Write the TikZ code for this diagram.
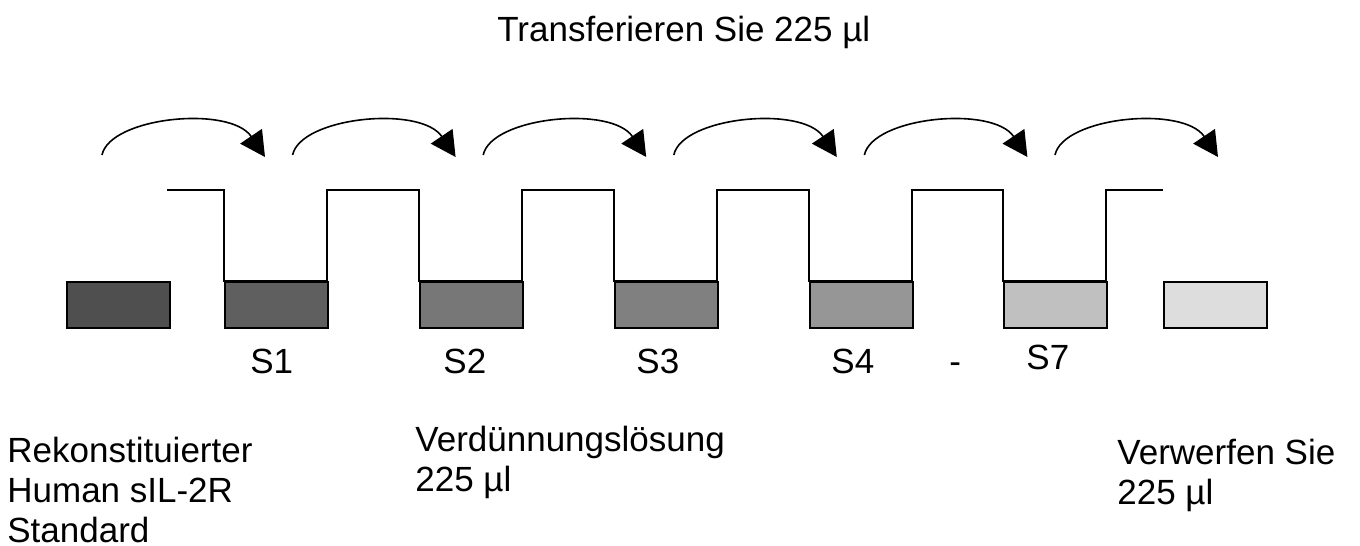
\documentclass[tikz,border=0pt]{standalone}
\usepackage{fontspec}
\setmainfont{Liberation Sans}
\usetikzlibrary{arrows.meta,calc}
\definecolor{g0}{HTML}{4F4F4F}
\definecolor{g1}{HTML}{5F5F5F}
\definecolor{g2}{HTML}{777777}
\definecolor{g3}{HTML}{808080}
\definecolor{g4}{HTML}{969696}
\definecolor{g7}{HTML}{C0C0C0}
\definecolor{g8}{HTML}{DDDDDD}
\begin{document}
\begin{tikzpicture}[x=0.5pt,y=-0.5pt,
  lbl/.style={font=\fontsize{17.5}{20}\selectfont, inner sep=0pt, anchor=base west},
  tube/.style={draw=black, line width=1pt, inner sep=0pt, anchor=north west,
               minimum width=51.5pt, minimum height=23pt},
  wire/.style={draw=black, line width=1pt},
  xfer/.style={draw=black, line width=0.8pt, -{Triangle[length=12.5pt,width=13pt]}}]
\useasboundingbox (0,0) rectangle (1360,546);
% tubes
\node[tube, fill=g0] (t0) at (66,281) {};
\node[tube, fill=g1] (t1) at (224,281) {};
\node[tube, fill=g2] (t2) at (419,281) {};
\node[tube, fill=g3] (t3) at (614,281) {};
\node[tube, fill=g4] (t4) at (809,281) {};
\node[tube, fill=g7] (t7) at (1003,281) {};
\node[tube, fill=g8] (t8) at (1163,281) {};
% transfer line
\draw[wire] (167,190) -- (224,190) -- (224,281) -- (327,281) -- (327,190)
  -- (419,190) -- (419,281) -- (522,281) -- (522,190)
  -- (614,190) -- (614,281) -- (717,281) -- (717,190)
  -- (809,190) -- (809,281) -- (912,281) -- (912,190)
  -- (1003,190) -- (1003,281) -- (1106,281) -- (1106,190)
  -- (1163,190);
% arrows
\foreach \i in {0,...,5}{
  \pgfmathsetmacro{\dx}{190.6*\i}
  \coordinate (as\i) at (102+\dx,155);
  \coordinate (ae\i) at (265+\dx,157);
  \draw[xfer] (as\i) .. controls ($(as\i)+(8,-38)$) and ($(ae\i)+(-35,-52)$) .. (ae\i);
}
% labels
\node[lbl] (title) at (497,41) {Transferieren Sie 225 µl};
\node[lbl] (s1) at (250,373) {S1};
\node[lbl] (s2) at (443,373) {S2};
\node[lbl] (s3) at (636,373) {S3};
\node[lbl] (s4) at (831,373) {S4};
\node[lbl] (dash) at (949,373) {-};
\node[lbl] (s7) at (1026,369) {S7};
\node[lbl] (r1) at (7,462) {Rekonstituierter};
\node[lbl] (r2) at (7,502) {Human sIL-2R};
\node[lbl] (r3) at (7,542) {Standard};
\node[lbl] (v1) at (415,451) {Verdünnungslösung};
\node[lbl] (v2) at (415,491) {225 µl};
\node[lbl] (w1) at (1117,464) {Verwerfen Sie};
\node[lbl] (w2) at (1117,504) {225 µl};
\end{tikzpicture}
\end{document}
